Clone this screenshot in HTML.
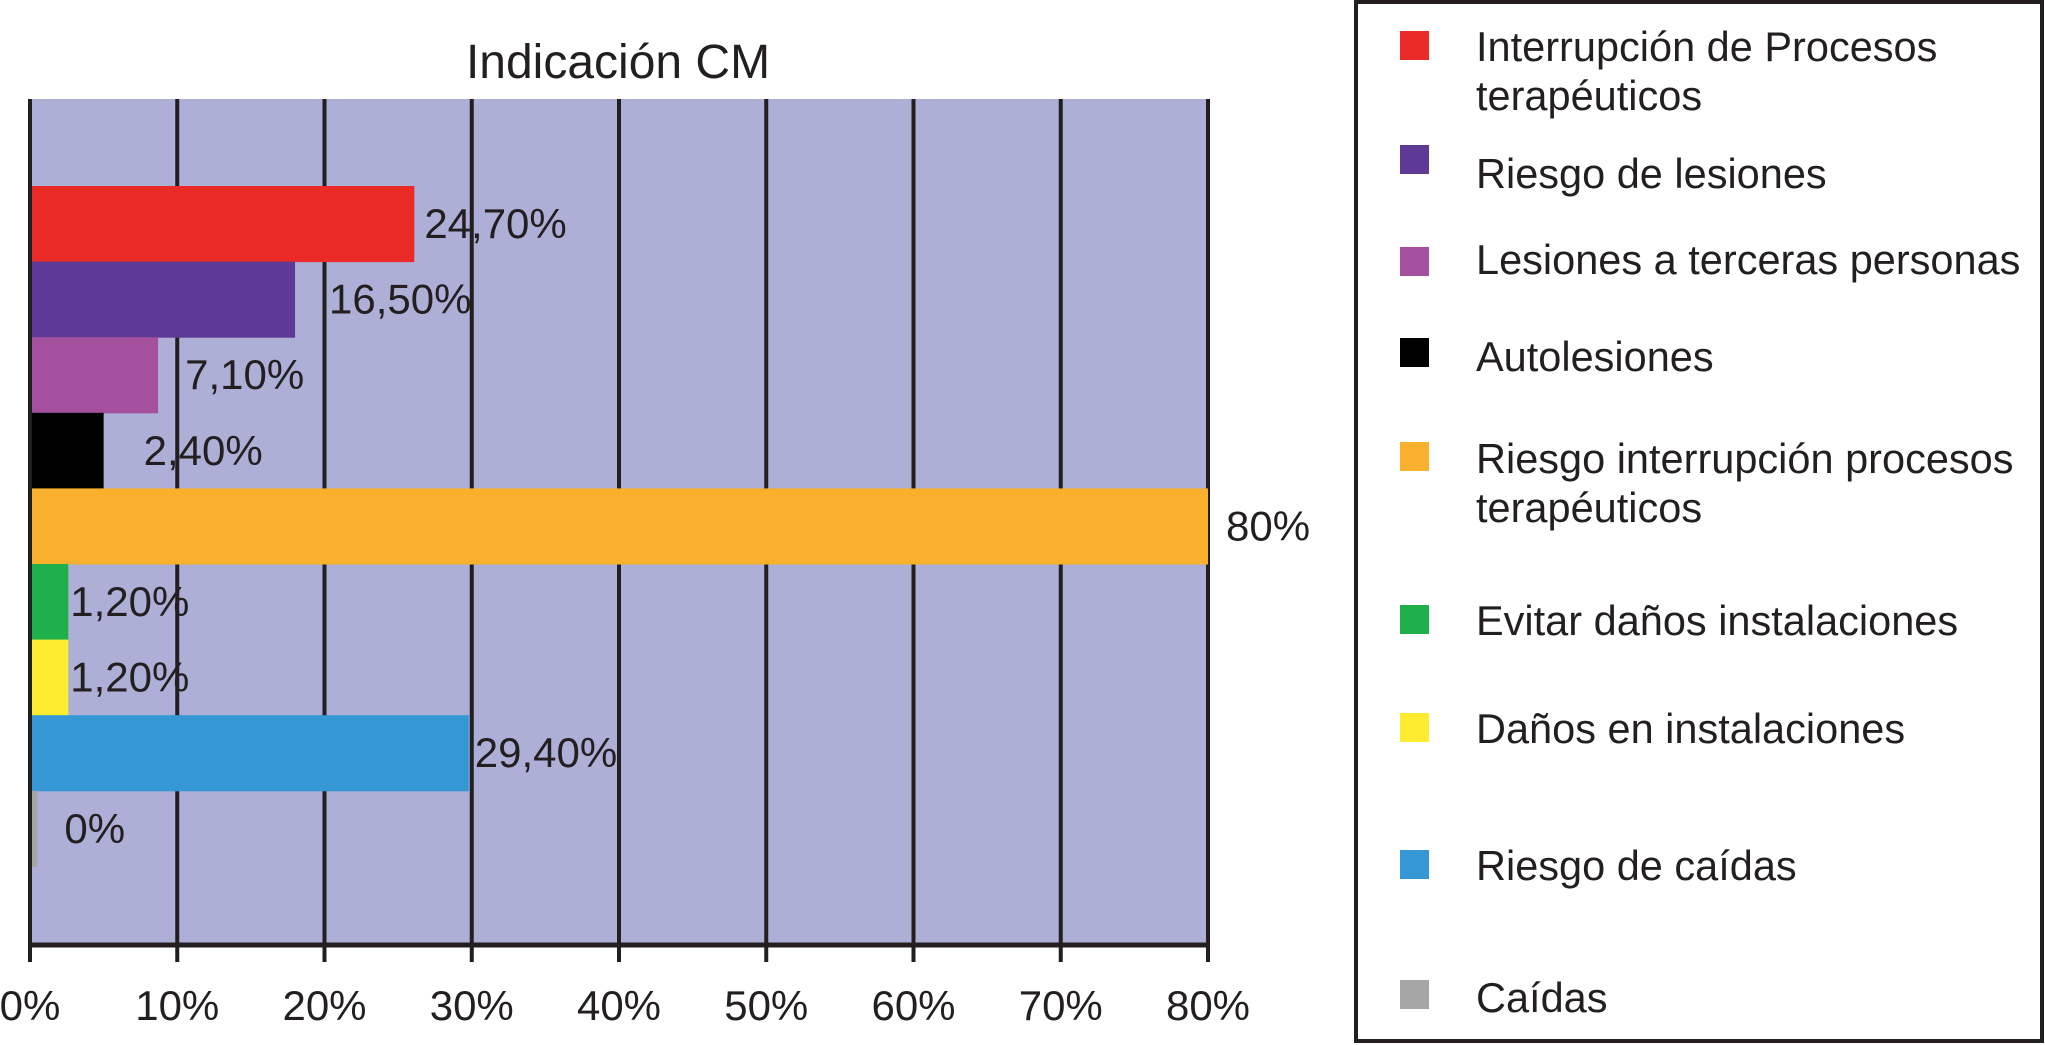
<!DOCTYPE html>
<html><head><meta charset="utf-8"><style>
html,body{margin:0;padding:0;background:#fff;}
svg{display:block;font-family:"Liberation Sans",Arial,sans-serif;}
</style></head><body>
<svg id="chart" width="2045" height="1045" viewBox="0 0 2045 1045">
<text x="618" y="78" font-size="48" text-anchor="middle" fill="#231f20">Indicación CM</text>
<rect x="30" y="99" width="1178" height="846" fill="#adafd7"/>
<g id="grid"></g><g id="bars"></g><g id="labels"></g><g id="axis"></g>
<rect x="1356" y="2" width="686" height="1039" fill="none" stroke="#231f20" stroke-width="4"/>
<g id="legend"></g>
</svg>
<script>
const categories = ["Interrupción de Procesos terapéuticos","Riesgo de lesiones","Lesiones a terceras personas","Autolesiones","Riesgo interrupción procesos terapéuticos","Evitar daños instalaciones","Daños en instalaciones","Riesgo de caídas","Caídas"];
const barValues = [26.1, 18.0, 8.7, 5.0, 80, 2.6, 2.6, 29.8, 0.5];
const valueLabels = ["24,70%","16,50%","7,10%","2,40%","80%","1,20%","1,20%","29,40%","0%"];
const colors = ["#ea2a26","#5e3a96","#a54f9f","#000000","#f9b02d","#1fb04b","#fdec30","#3697d5","#a6a6a7"];
const tickValues = [0,10,20,30,40,50,60,70,80];
const tickLabels = ["0%","10%","20%","30%","40%","50%","60%","70%","80%"];
const legendLines = [["Interrupción de Procesos","terapéuticos"],["Riesgo de lesiones"],["Lesiones a terceras personas"],["Autolesiones"],["Riesgo interrupción procesos","terapéuticos"],["Evitar daños instalaciones"],["Daños en instalaciones"],["Riesgo de caídas"],["Caídas"]];
const legendSwatchTop = [31,145,247,338,442,605,713,850,980];
const legendBaseline = [61,188,274,371,473,635,743,880,1012];
const labelDx = [10,34,27,40,18,2,2,6,27];

const NS="http://www.w3.org/2000/svg";
const x0=30, x1=1208, xMax=80, yTop=186, barH=75.6;
function xs(v){return x0+(v/xMax)*(x1-x0);}
function yb(i){return yTop+i*barH;}
function mk(tag,attrs,parent){const e=document.createElementNS(NS,tag);for(const k in attrs)e.setAttribute(k,attrs[k]);parent.appendChild(e);return e;}
const grid=document.getElementById('grid'),bars=document.getElementById('bars'),labels=document.getElementById('labels'),axis=document.getElementById('axis'),legend=document.getElementById('legend');

tickValues.forEach((t,i)=>{
  const l=mk('line',{x1:xs(t),x2:xs(t),y1:99,y2:962,stroke:'#231f20','stroke-width':4},grid);
  
  
  const tx=mk('text',{x:xs(t),y:1020,'font-size':42,'text-anchor':'middle',fill:'#231f20'},axis);
  tx.textContent=tickLabels[i];
  
  
});
const ax=mk('line',{x1:x0,x2:x1+2,y1:945,y2:945,stroke:'#231f20','stroke-width':5},axis);



barValues.forEach((v,i)=>{
  const r=mk('rect',{x:x0+2,y:yb(i),width:Math.max(0,xs(v)-x0-2),height:barH+0.5,fill:colors[i]},bars);
  
  
  const t=mk('text',{x:xs(v)+labelDx[i],y:yb(i)+52,'font-size':42,fill:'#231f20'},labels);
  t.textContent=valueLabels[i];
  
  
});

categories.forEach((c,i)=>{
  const s=mk('rect',{x:1400,y:legendSwatchTop[i],width:29,height:29,fill:colors[i]},legend);
  
  
  legendLines[i].forEach((ln,j)=>{
    const t=mk('text',{x:1476,y:legendBaseline[i]+j*49,'font-size':41.5,fill:'#231f20'},legend);
    t.textContent=ln;
    
    
  });
});
</script>
</body></html>
